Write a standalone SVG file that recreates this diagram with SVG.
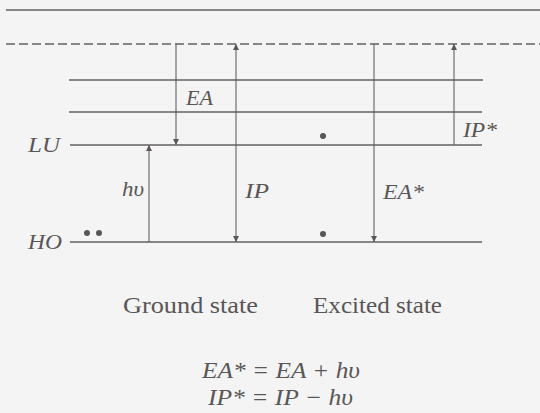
<svg xmlns="http://www.w3.org/2000/svg" width="540" height="413" viewBox="0 0 540 413">
<defs>
<marker id="ah" viewBox="0 0 10 10" refX="10" refY="5" markerWidth="9" markerHeight="6" markerUnits="userSpaceOnUse" orient="auto">
<path d="M0,0 L10,5 L0,10 z" fill="#5a5656"/>
</marker>
<marker id="as" viewBox="0 0 10 10" refX="0" refY="5" markerWidth="9" markerHeight="6" markerUnits="userSpaceOnUse" orient="auto">
<path d="M10,0 L0,5 L10,10 z" fill="#5a5656"/>
</marker>
</defs>
<style>
.lv{stroke:#646060;stroke-width:1.3;fill:none}
.ar{stroke:#646060;stroke-width:1.1;fill:none}
.it{font-family:"Liberation Serif",serif;font-style:italic;fill:#5a5656}
.rm{font-family:"Liberation Serif",serif;fill:#5a5656}
.dot{fill:#5a5656}
</style>
<rect width="540" height="413" fill="#f4f4f4"/>
<g id="levels">
<line class="lv" x1="6" y1="10" x2="540" y2="10"/>
<line class="lv" x1="6" y1="44" x2="540" y2="44" stroke-dasharray="9,4"/>
<line class="lv" x1="69" y1="80" x2="483" y2="80"/>
<line class="lv" x1="69" y1="112" x2="482" y2="112"/>
<line class="lv" x1="70" y1="145" x2="482" y2="145"/>
<line class="lv" x1="70" y1="242" x2="482" y2="242"/>
</g>
<g id="LU"><text class="it" x="28" y="152" font-size="22" textLength="32" lengthAdjust="spacingAndGlyphs">LU</text></g>
<g id="HO"><text class="it" x="28" y="249" font-size="22" textLength="34" lengthAdjust="spacingAndGlyphs">HO</text>
<circle class="dot" cx="87" cy="233" r="3"/><circle class="dot" cx="99" cy="233" r="3"/></g>
<g id="excited-electrons">
<circle class="dot" cx="323" cy="136" r="3"/><circle class="dot" cx="323" cy="234" r="3"/>
</g>
<g id="connectors">
<line class="ar" x1="176" y1="44" x2="176" y2="145" marker-end="url(#ah)"/>
<line class="ar" x1="149" y1="242" x2="149" y2="145" marker-end="url(#ah)"/>
<line class="ar" x1="236" y1="44" x2="236" y2="242" marker-start="url(#as)" marker-end="url(#ah)"/>
<line class="ar" x1="374" y1="44" x2="374" y2="242" marker-end="url(#ah)"/>
<line class="ar" x1="454" y1="145" x2="454" y2="44" marker-end="url(#ah)"/>
</g>
<g id="labels">
<text class="it" x="186" y="105" font-size="21" textLength="27" lengthAdjust="spacingAndGlyphs">EA</text>
<text class="it" x="122" y="196" font-size="21" textLength="22" lengthAdjust="spacingAndGlyphs">hυ</text>
<text class="it" x="245" y="198" font-size="21" textLength="24" lengthAdjust="spacingAndGlyphs">IP</text>
<text class="it" x="383" y="199" font-size="21" textLength="41" lengthAdjust="spacingAndGlyphs">EA*</text>
<text class="it" x="463" y="137" font-size="21" textLength="34" lengthAdjust="spacingAndGlyphs">IP*</text>
</g>
<g id="captions">
<text class="rm" x="123" y="313" font-size="24" textLength="135" lengthAdjust="spacingAndGlyphs">Ground state</text>
<text class="rm" x="313" y="313" font-size="24" textLength="129" lengthAdjust="spacingAndGlyphs">Excited state</text>
<text class="it" x="202" y="378" font-size="23" textLength="158" lengthAdjust="spacingAndGlyphs">EA* = EA + hυ</text>
<text class="it" x="208" y="405" font-size="23" textLength="145" lengthAdjust="spacingAndGlyphs">IP* = IP − hυ</text>
</g>
</svg>
